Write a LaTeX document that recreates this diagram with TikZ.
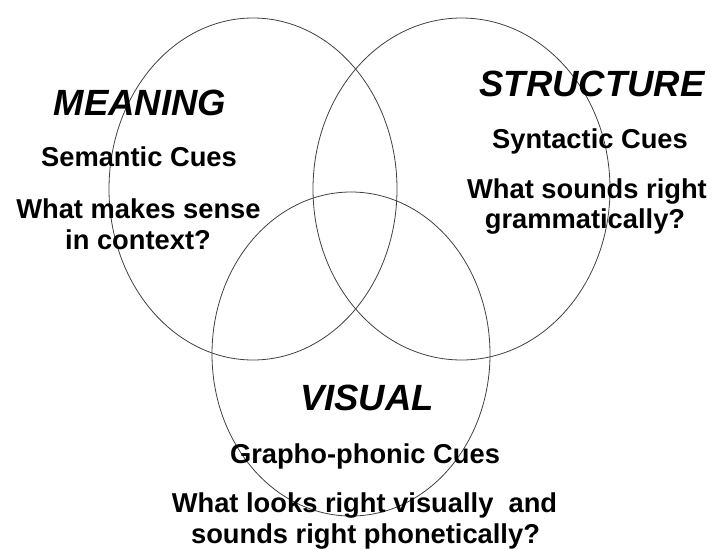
\documentclass[tikz,border=0pt]{standalone}
\usepackage{fontspec}
\setmainfont{Liberation Sans}
\usetikzlibrary{shapes.geometric}
\begin{document}
\begin{tikzpicture}[x=1pt,y=-1pt,
  ring/.style={ellipse,draw=black!75,line width=0.8pt,inner sep=0pt,outer sep=0pt},
  ttl/.style={anchor=base,inner sep=0pt,font=\fontsize{36.5}{40}\selectfont\bfseries\itshape},
  txt/.style={anchor=base,inner sep=0pt,font=\fontsize{27.3}{32}\selectfont\bfseries}]
\useasboundingbox (0,0) rectangle (711,549);
% circles
\node[ring,minimum width=288pt,minimum height=342pt] (cm) at (253,189) {};
\node[ring,minimum width=297pt,minimum height=342pt] (cs) at (461.5,189) {};
\node[ring,minimum width=278pt,minimum height=324pt] (cv) at (351,354) {};
% meaning
\node[ttl] (m0) at (140,115) {MEANING};
\node[txt] (m1) at (139,166) {Semantic Cues};
\node[txt] (m2) at (138.5,218) {What makes sense};
\node[txt] (m3) at (138,249) {in context?};
% structure
\node[ttl] (s0) at (592,96) {STRUCTURE};
\node[txt] (s1) at (590,148) {Syntactic Cues};
\node[txt] (s2) at (587,198) {What sounds right};
\node[txt] (s3) at (585,228) {grammatically?};
% visual
\node[ttl] (v0) at (367,410) {VISUAL};
\node[txt] (v1) at (365,463) {Grapho-phonic Cues};
\node[txt] (v2) at (364.5,512) {What looks right visually\ \ and};
\node[txt] (v3) at (365.5,543) {sounds right phonetically?};
\end{tikzpicture}
\end{document}
